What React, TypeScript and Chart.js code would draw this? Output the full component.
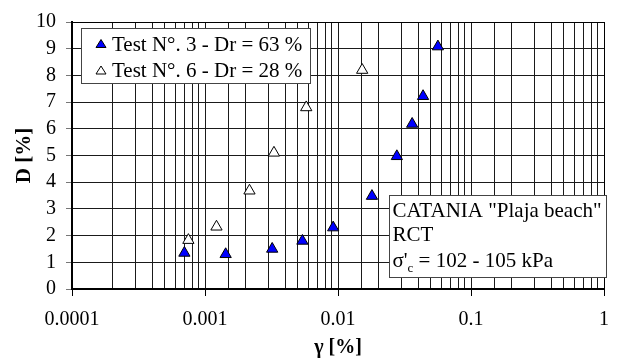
import React, { useEffect, useRef } from "react";
import { Chart, registerables } from "chart.js";

Chart.register(...registerables);

// ---- data ----
const test3Strain = [0.0007, 0.00143, 0.0032, 0.0054, 0.0092, 0.018, 0.0277, 0.0361, 0.0436, 0.0564];
const test3D = [1.35, 1.3, 1.5, 1.8, 2.3, 3.48, 4.97, 6.18, 7.22, 9.08];
const test6Strain = [0.00075, 0.00122, 0.00216, 0.0033, 0.00577, 0.0152];
const test6D = [1.83, 2.33, 3.68, 5.1, 6.8, 8.2];
const xTickLabels = ["0.0001", "0.001", "0.01", "0.1", "1"];
const seriesLabels = ["Test N°. 3 - Dr = 63 %", "Test N°. 6 - Dr = 28 %"];
const infoLines = ['CATANIA "Plaja beach"', "RCT"];
const stressLabel = { sym: "σ'", sub: "c", rest: " = 102 - 105 kPa" };
const xTitle = "γ [%]";
const yTitle = "D [%]";

const SERIF = "'Liberation Serif', 'Times New Roman', serif";

function isMajor(v: number) {
  const l = Math.log10(v);
  return Math.abs(l - Math.round(l)) < 1e-6;
}

function tri(ctx: CanvasRenderingContext2D, cx: number, cy: number, w: number, h: number, fill: string) {
  ctx.beginPath();
  ctx.moveTo(cx, cy - h / 2);
  ctx.lineTo(cx + w / 2, cy + h / 2);
  ctx.lineTo(cx - w / 2, cy + h / 2);
  ctx.closePath();
  ctx.fillStyle = fill;
  ctx.fill();
  ctx.strokeStyle = "#000";
  ctx.lineWidth = 1;
  ctx.stroke();
}

const overlayPlugin = {
  id: "overlay",
  afterDraw(chart: any) {
    const ctx: CanvasRenderingContext2D = chart.ctx;
    const a = chart.chartArea;
    ctx.save();
    // frame top/right
    ctx.strokeStyle = "#000";
    ctx.lineWidth = 1;
    ctx.strokeRect(Math.round(a.left) + 0.5, Math.round(a.top) + 0.5, Math.round(a.right - a.left), Math.round(a.bottom - a.top));

    // legend box
    ctx.fillStyle = "#fff";
    ctx.fillRect(81, 28, 229, 55);
    ctx.strokeStyle = "#444";
    ctx.strokeRect(81.5, 28.5, 229, 55);
    tri(ctx, 101, 43.5, 10, 8, "#0000ff");
    tri(ctx, 101, 70, 10, 8, "#ffffff");
    ctx.fillStyle = "#000";
    ctx.font = `21px ${SERIF}`;
    ctx.textAlign = "left";
    ctx.textBaseline = "alphabetic";
    ctx.fillText(seriesLabels[0], 112, 50.5);
    ctx.fillText(seriesLabels[1], 112, 77);

    // info box
    ctx.fillStyle = "#fff";
    ctx.fillRect(389, 195, 217, 82);
    ctx.strokeStyle = "#444";
    ctx.strokeRect(389.5, 195.5, 217, 82);
    ctx.fillStyle = "#000";
    ctx.font = `21px ${SERIF}`;
    ctx.fillText(infoLines[0], 392.5, 216.5);
    ctx.fillText(infoLines[1], 392.5, 240.5);
    let x = 392.5;
    ctx.fillText(stressLabel.sym, x, 267);
    x += ctx.measureText(stressLabel.sym).width;
    ctx.font = `13px ${SERIF}`;
    ctx.fillText(stressLabel.sub, x, 272);
    x += ctx.measureText(stressLabel.sub).width;
    ctx.font = `21px ${SERIF}`;
    ctx.fillText(stressLabel.rest, x, 267);

    // axis titles
    ctx.font = `bold 20px ${SERIF}`;
    ctx.textAlign = "center";
    ctx.textBaseline = "middle";
    ctx.fillText(xTitle, (a.left + a.right) / 2, 348);
    ctx.translate(25, (a.top + a.bottom) / 2);
    ctx.rotate(-Math.PI / 2);
    ctx.font = `bold 21px ${SERIF}`;
    ctx.fillText(yTitle, 0, 0);
    ctx.restore();
  },
};

export default function App() {
  const ref = useRef<HTMLCanvasElement | null>(null);
  useEffect(() => {
    if (!ref.current) return;
    const chart = new Chart(ref.current, {
      type: "scatter",
      data: {
        datasets: [
          {
            label: seriesLabels[0],
            data: test3Strain.map((x, i) => ({ x, y: test3D[i] })),
            pointStyle: "triangle",
            pointRadius: 6.5,
            pointHoverRadius: 6.5,
            backgroundColor: "#0000ff",
            borderColor: "#000",
            borderWidth: 1,
          },
          {
            label: seriesLabels[1],
            data: test6Strain.map((x, i) => ({ x, y: test6D[i] })),
            pointStyle: "triangle",
            pointRadius: 6.5,
            pointHoverRadius: 6.5,
            backgroundColor: "#ffffff",
            borderColor: "#000",
            borderWidth: 1,
          },
        ],
      },
      options: {
        animation: false,
        responsive: false,
        events: [],
        layout: { padding: { top: 19, right: 10, left: 0, bottom: 0 } },
        plugins: { legend: { display: false }, tooltip: { enabled: false } },
        scales: {
          x: {
            type: "logarithmic",
            min: 0.0001,
            max: 1,
            afterFit: (s: any) => {
              s.height = 71;
            },
            border: { color: "#000", width: 2 },
            grid: {
              color: "#1a1a1a",
              lineWidth: 1,
              tickLength: 7,
              tickColor: (c: any) => (c.tick && isMajor(c.tick.value) ? "#000" : "rgba(0,0,0,0)"),
            },
            ticks: {
              autoSkip: false,
              maxRotation: 0,
              padding: 12,
              color: "#000",
              font: { family: SERIF, size: 20 },
              callback: (v: any) => {
                const n = Number(v);
                if (!isMajor(n)) return "";
                const idx = Math.round(Math.log10(n)) + 4;
                return xTickLabels[idx] ?? "";
              },
            },
          },
          y: {
            min: 0,
            max: 10,
            afterFit: (s: any) => {
              s.width = 72;
            },
            border: { color: "#000", width: 2 },
            grid: { color: "#1a1a1a", lineWidth: 1, tickLength: 6, tickColor: "#777" },
            ticks: {
              stepSize: 1,
              autoSkip: false,
              padding: 10,
              color: "#000",
              font: { family: SERIF, size: 20 },
            },
          },
        },
      },
      plugins: [overlayPlugin],
    });
    return () => chart.destroy();
  }, []);
  return (
    <div style={{ position: "fixed", left: 0, top: 0, width: 621, height: 360, background: "#fff" }}>
      <canvas ref={ref} width={621} height={360} style={{ display: "block" }} />
    </div>
  );
}
